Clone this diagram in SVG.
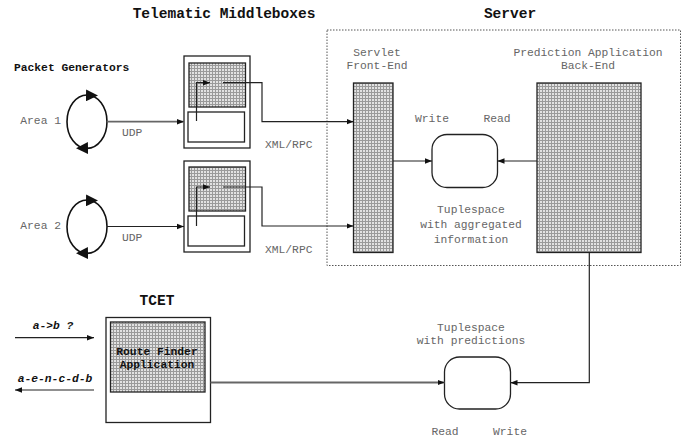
<svg xmlns="http://www.w3.org/2000/svg" width="685" height="439" viewBox="0 0 685 439">
<style>
.t{font-family:"Liberation Mono",monospace;font-size:11.3px;fill:#666}
.h{font-family:"Liberation Mono",monospace;font-weight:bold;font-size:14.5px;fill:#111}
.hs{font-family:"Liberation Mono",monospace;font-weight:bold;font-size:11.3px;fill:#111}
.q{font-family:"Liberation Mono",monospace;font-weight:bold;font-style:italic;font-size:11.3px;fill:#111}
.box{fill:#fff;stroke:#222;stroke-width:1.3}
.sh{fill:url(#dots);stroke:#222;stroke-width:1.3}
.ln{fill:none;stroke:#222;stroke-width:1.2}
.gl{fill:none;stroke:#666;stroke-width:1.8}
</style>
<defs>
<pattern id="dots" width="3" height="3" patternUnits="userSpaceOnUse">
<rect width="3" height="3" fill="#9a9a9a"/>
<rect width="2" height="2" fill="#e2e2e2"/>
</pattern>
<marker id="ah" viewBox="0 0 10 10" refX="10" refY="5" markerWidth="7" markerHeight="7" markerUnits="userSpaceOnUse" orient="auto">
<path d="M0,1 L10,5 L0,9 z" fill="#111"/>
</marker>
<marker id="big" viewBox="0 0 10 10" refX="5" refY="5" markerWidth="12" markerHeight="12" markerUnits="userSpaceOnUse" orient="auto">
<path d="M0,0 L10,5 L0,10 z" fill="#111"/>
</marker>
</defs>
<text class="h" x="224" y="18" text-anchor="middle">Telematic Middleboxes</text>
<text class="h" x="510" y="18" text-anchor="middle">Server</text>
<text class="hs" x="14" y="71">Packet Generators</text>
<g id="server-box"><rect x="327" y="30" width="353.5" height="235.5" fill="none" stroke="#555" stroke-width="1" stroke-dasharray="1.5,1.5"/></g>
<g id="gen1">
<ellipse cx="87" cy="121.7" rx="20" ry="26.7" fill="none" stroke="#111" stroke-width="1.6"/>
<path d="M82,95.3 L92,95.5" fill="none" stroke="none" marker-end="url(#big)"/>
<path d="M92,148 L82,148.2" fill="none" stroke="none" marker-end="url(#big)"/>
<text class="t" x="61" y="124" text-anchor="end">Area 1</text>
</g>
<g id="gen2">
<ellipse cx="87" cy="226.7" rx="20" ry="26.7" fill="none" stroke="#111" stroke-width="1.6"/>
<path d="M82,200.3 L92,200.5" fill="none" stroke="none" marker-end="url(#big)"/>
<path d="M92,253 L82,253.2" fill="none" stroke="none" marker-end="url(#big)"/>
<text class="t" x="61" y="229" text-anchor="end">Area 2</text>
</g>
<g id="mb1">
<rect class="box" x="184" y="56" width="66" height="92"/>
<rect class="sh" x="189" y="63" width="56.5" height="44"/>
<rect class="box" x="188" y="112" width="56.5" height="30"/>
</g>
<g id="mb2">
<rect class="box" x="184" y="161" width="66" height="91"/>
<rect class="sh" x="189" y="167" width="56.5" height="44"/>
<rect class="box" x="188" y="216" width="56.5" height="30"/>
</g>
<g id="servlet">
<rect class="sh" x="353.5" y="83" width="39.5" height="169.5"/>
<text class="t" x="377" y="56" text-anchor="middle">Servlet</text>
<text class="t" x="377" y="69" text-anchor="middle">Front-End</text>
</g>
<g id="backend">
<rect class="sh" x="537" y="83" width="104" height="169.5"/>
<text class="t" x="588" y="56" text-anchor="middle">Prediction Application</text>
<text class="t" x="588" y="69" text-anchor="middle">Back-End</text>
</g>
<g id="ts1">
<rect class="box" x="432" y="134.5" width="65.5" height="53" rx="15"/>
<text class="t" x="432" y="122" text-anchor="middle">Write</text>
<text class="t" x="497" y="122" text-anchor="middle">Read</text>
<text class="t" x="471" y="213" text-anchor="middle">Tuplespace</text>
<text class="t" x="471" y="228" text-anchor="middle">with aggregated</text>
<text class="t" x="471" y="243" text-anchor="middle">information</text>
</g>
<g id="ts2">
<rect class="box" x="444.5" y="357" width="66" height="52" rx="15"/>
<text class="t" x="471" y="331" text-anchor="middle">Tuplespace</text>
<text class="t" x="471" y="344" text-anchor="middle">with predictions</text>
<text class="t" x="445" y="435" text-anchor="middle">Read</text>
<text class="t" x="510" y="435" text-anchor="middle">Write</text>
</g>
<g id="tcet">
<text class="h" x="157" y="305" text-anchor="middle">TCET</text>
<rect class="box" x="106" y="317.5" width="104.5" height="105"/>
<rect class="sh" x="110.5" y="322" width="94.5" height="70"/>
<text class="hs" x="157" y="355" text-anchor="middle" fill="#222">Route Finder</text>
<text class="hs" x="157" y="368" text-anchor="middle" fill="#222">Application</text>
</g>
<g id="connectors">
<path class="gl" d="M107,121.7 H184" marker-end="url(#ah)"/>
<path class="ln" d="M107,226.5 H184" marker-end="url(#ah)"/>
<text class="t" x="122" y="136">UDP</text>
<text class="t" x="122" y="241">UDP</text>
<path class="ln" d="M196.5,121 V82.7 H210" marker-end="url(#ah)"/>
<path class="ln" d="M223,82.7 H262 V121.7 H353.5" marker-end="url(#ah)"/>
<path class="ln" d="M196.5,226 V187 H210" marker-end="url(#ah)"/>
<path class="ln" d="M223,187 H262 V226 H353.5" marker-end="url(#ah)"/>
<text class="t" x="265" y="148">XML/RPC</text>
<text class="t" x="265" y="253">XML/RPC</text>
<path class="ln" d="M393,161 H432" marker-end="url(#ah)"/>
<path class="ln" d="M537,161 H497.5" marker-end="url(#ah)"/>
<path class="ln" d="M589.3,252.5 V382.7 H510.5" marker-end="url(#ah)"/>
<path class="gl" d="M210.5,382.5 H444.5" marker-end="url(#ah)"/>
<path class="ln" d="M15,337.7 H94" marker-end="url(#ah)"/>
<path class="ln" d="M94,390 H15" marker-end="url(#ah)"/>
<text class="q" x="53" y="329" text-anchor="middle">a-&gt;b ?</text>
<text class="q" x="55" y="382" text-anchor="middle">a-e-n-c-d-b</text>
</g>
</svg>
